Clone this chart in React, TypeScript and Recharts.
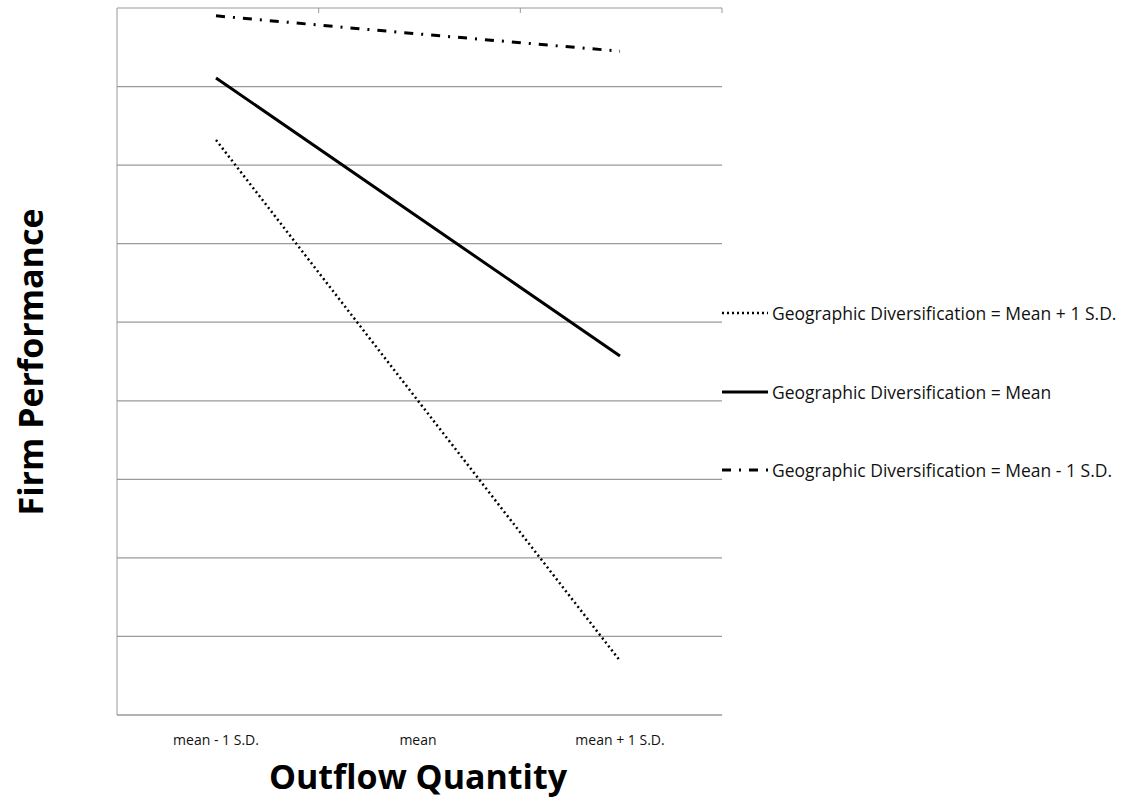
import React from "react";
import {
  LineChart,
  Line,
  XAxis,
  YAxis,
  CartesianGrid,
  Legend,
} from "recharts";

// values (arbitrary performance units, gridline = 1)
const categories = ["mean - 1 S.D.", "mean", "mean + 1 S.D."];
const highDiv = [7.32, 4.0, 0.69];
const meanDiv = [8.11, 6.34, 4.57];
const lowDiv = [8.9, 8.67, 8.45];
const yTicks = [0, 1, 2, 3, 4, 5, 6, 7, 8, 9];
const boundaryTicks = [1, 2, 3];

const seriesNames = {
  high: "Geographic Diversification = Mean + 1 S.D.",
  mean: "Geographic Diversification = Mean",
  low: "Geographic Diversification = Mean - 1 S.D.",
};
const legendOrder = ["high", "mean", "low"];

const data = categories.map((c, i) => ({
  cat: c,
  high: highDiv[i],
  mean: meanDiv[i],
  low: lowDiv[i],
}));

const lineStyle: Record<string, { dash?: string; width: number }> = {
  high: { dash: "2 3", width: 2.5 },
  mean: { width: 3 },
  low: { dash: "9 8 2 8", width: 3 },
};

const FONT = "'Open Sans', Lato, sans-serif";
const GRID = "#9a9a9a";

// category slot (centre) for the top boundary-tick axis
const slotOf = (d: any) => categories.indexOf(d.cat) + 0.5;

function LegendBox(props: any) {
  const items = [...(props.payload || [])].sort(
    (a: any, b: any) =>
      legendOrder.indexOf(a.dataKey) - legendOrder.indexOf(b.dataKey)
  );
  return (
    <div style={{ fontFamily: FONT, fontSize: 17.5, color: "#111" }}>
      {items.map((entry: any) => {
        const st = lineStyle[entry.dataKey];
        return (
          <div
            key={entry.dataKey}
            style={{ display: "flex", alignItems: "center", height: 78.5 }}
          >
            <svg width={48} height={10} style={{ marginRight: 2, flexShrink: 0 }}>
              <line
                x1={0}
                x2={46}
                y1={5}
                y2={5}
                stroke="#000"
                strokeWidth={st.width}
                strokeDasharray={st.dash}
              />
            </svg>
            <span style={{ whiteSpace: "nowrap" }}>{entry.value}</span>
          </div>
        );
      })}
    </div>
  );
}

const noTick = () => <g />;

export default function App() {
  return (
    <div style={{ position: "absolute", left: 0, top: 0, width: 1131, height: 803 }}>
      <LineChart
        width={1131}
        height={803}
        data={data}
        margin={{ top: 8, left: 116, right: 409, bottom: 58 }}
      >
        <CartesianGrid vertical={false} stroke={GRID} strokeWidth={1.2} />
        <XAxis
          dataKey="cat"
          height={30}
          stroke={GRID}
          padding={{ left: 99, right: 102 }}
          tickLine={false}
          tickSize={0}
          tickMargin={20}
          tick={{ fontFamily: FONT, fontSize: 14, fill: "#111" }}
        />
        <XAxis
          xAxisId="top"
          type="number"
          dataKey={slotOf}
          domain={[0, 3]}
          allowDataOverflow
          ticks={boundaryTicks}
          orientation="top"
          mirror
          axisLine={false}
          tick={noTick}
          tickSize={5}
          stroke={GRID}
        />
        <YAxis
          domain={[0, 9]}
          ticks={yTicks}
          width={1}
          tick={noTick}
          tickLine={false}
          stroke={GRID}
        />
        <Legend
          layout="vertical"
          align="center"
          verticalAlign="middle"
          content={<LegendBox />}
          wrapperStyle={{ left: 722, top: 274, width: 409 }}
        />
        <Line
          dataKey="high"
          name={seriesNames.high}
          stroke="#000"
          strokeWidth={lineStyle.high.width}
          strokeDasharray={lineStyle.high.dash}
          dot={false}
          isAnimationActive={false}
        />
        <Line
          dataKey="mean"
          name={seriesNames.mean}
          stroke="#000"
          strokeWidth={lineStyle.mean.width}
          dot={false}
          isAnimationActive={false}
        />
        <Line
          dataKey="low"
          name={seriesNames.low}
          stroke="#000"
          strokeWidth={lineStyle.low.width}
          strokeDasharray={lineStyle.low.dash}
          dot={false}
          isAnimationActive={false}
        />
        <text
          x={418}
          y={789}
          textAnchor="middle"
          fontFamily={FONT}
          fontWeight="bold"
          fontSize={34}
          fill="#000"
        >
          Outflow Quantity
        </text>
        <text
          x={43}
          y={362}
          transform="rotate(-90 43 362)"
          textAnchor="middle"
          fontFamily={FONT}
          fontWeight="bold"
          fontSize={34}
          fill="#000"
        >
          Firm Performance
        </text>
      </LineChart>
    </div>
  );
}
